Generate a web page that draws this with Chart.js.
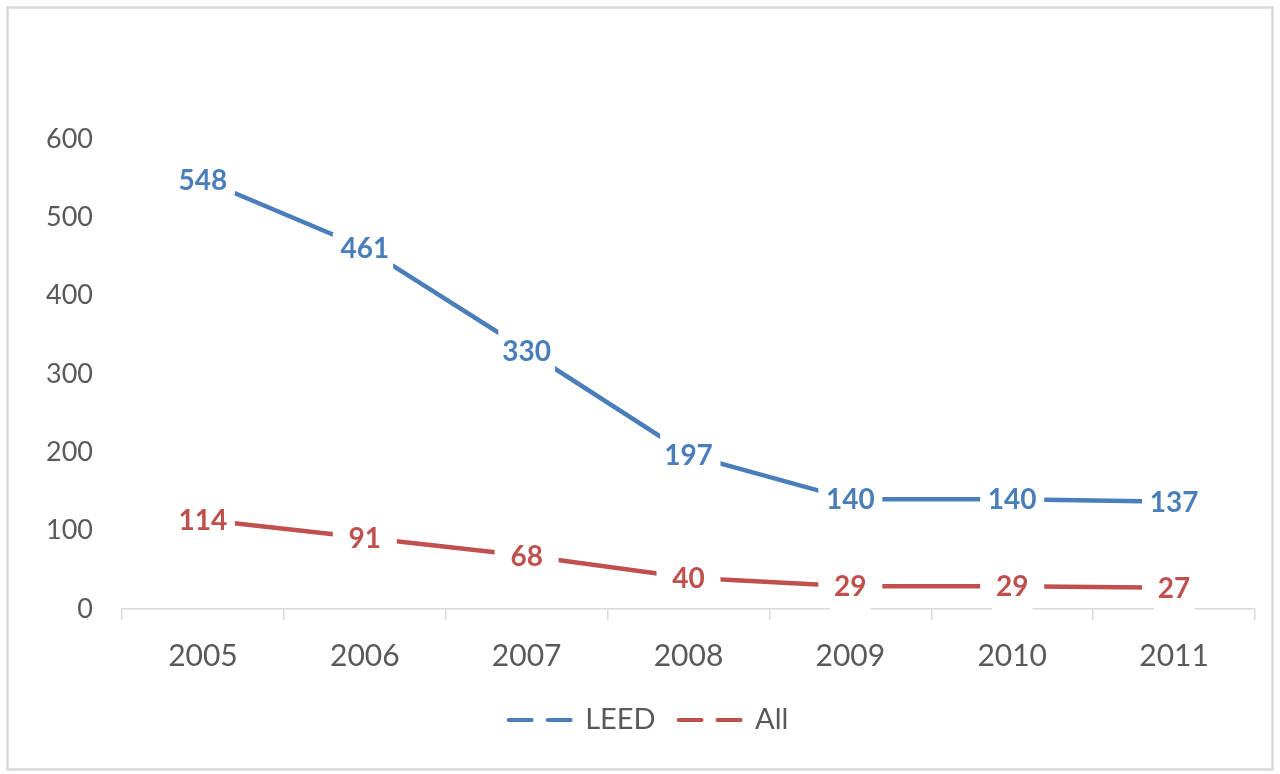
<!DOCTYPE html>
<html>
<head>
<meta charset="utf-8">
<script src="https://cdn.jsdelivr.net/npm/chart.js@4"></script>
<style>
  html, body { margin: 0; padding: 0; background: #fff; }
  #wrap { width: 1280px; height: 774px; position: relative; }
</style>
</head>
<body>
<div id="wrap"><canvas id="chart" width="1280" height="774"></canvas></div>
<script>
const years = ['2005', '2006', '2007', '2008', '2009', '2010', '2011'];
const leedValues = [548, 461, 330, 197, 140, 140, 137];
const allValues = [114, 91, 68, 40, 29, 29, 27];
const yTicks = [0, 100, 200, 300, 400, 500, 600];

const blue = '#4a7ebb';
const red = '#c0504d';
const grey = '#595959';
const lineGrey = '#d9d9d9';

// white-boxed value labels sitting on each point, like the Excel original
const pointLabels = {
    id: 'pointLabels',
    afterDatasetsDraw(chart) {
        const ctx = chart.ctx;
        ctx.save();
        ctx.font = 'bold 28px Lato';
        ctx.textAlign = 'center';
        ctx.textBaseline = 'middle';
        chart.data.datasets.forEach((ds, di) => {
            const meta = chart.getDatasetMeta(di);
            meta.data.forEach((pt, i) => {
                const text = String(ds.data[i]);
                const w = ctx.measureText(text).width;
                ctx.fillStyle = '#fff';
                ctx.fillRect(pt.x - 32, pt.y - 15, 64, 30);
                ctx.fillRect(pt.x - w / 2 - 4, pt.y - 24, w + 8, 48);
                ctx.fillStyle = ds.borderColor;
                ctx.fillText(text, pt.x, pt.y + 1);
            });
        });
        ctx.restore();
    }
};

const frame = {
    id: 'frame',
    beforeDraw(chart) {
        const ctx = chart.ctx;
        ctx.save();
        ctx.fillStyle = '#fff';
        ctx.fillRect(0, 0, chart.width, chart.height);
        ctx.strokeStyle = lineGrey;
        ctx.lineWidth = 2.5;
        ctx.strokeRect(7.5, 7.5, 1265, 762);
        ctx.restore();
    }
};

new Chart(document.getElementById('chart'), {
    type: 'line',
    data: {
        labels: years,
        datasets: [{
            label: 'LEED',
            data: leedValues,
            borderColor: blue,
            backgroundColor: blue,
            borderWidth: 4.5,
            pointRadius: 0,
            tension: 0,
            fill: false
        }, {
            label: 'All',
            data: allValues,
            borderColor: red,
            backgroundColor: red,
            borderWidth: 4.5,
            pointRadius: 0,
            tension: 0,
            fill: false
        }]
    },
    options: {
        responsive: false,
        animation: false,
        devicePixelRatio: 1,
        layout: { padding: { top: 139, right: 25, bottom: 29.5, left: 42 } },
        scales: {
            x: {
                offset: true,
                grid: {
                    display: true,
                    offset: true,
                    drawOnChartArea: false,
                    drawTicks: true,
                    tickLength: 11,
                    color: lineGrey,
                    lineWidth: 1.5
                },
                border: { display: true, color: lineGrey, width: 1.5 },
                ticks: { color: grey, font: { family: 'Lato', size: 30 }, padding: 18 },
                afterFit(scale) { scale.height = 73.5; }
            },
            y: {
                min: 0,
                max: 600,
                afterBuildTicks(scale) { scale.ticks = yTicks.map(v => ({ value: v })); },
                grid: { display: false, drawTicks: false },
                border: { display: false },
                ticks: { color: grey, font: { family: 'Lato', size: 27 }, padding: 29 },
                afterFit(scale) { scale.width = 80; }
            }
        },
        plugins: {
            tooltip: { enabled: false },
            legend: {
                position: 'bottom',
                labels: {
                    color: grey,
                    font: { family: 'Lato', size: 29 },
                    usePointStyle: true,
                    pointStyle: 'line',
                    pointStyleWidth: 62,
                    padding: 23,
                    generateLabels(chart) {
                        return chart.data.datasets.map((ds, i) => ({
                            text: ds.label,
                            fillStyle: ds.borderColor,
                            strokeStyle: ds.borderColor,
                            fontColor: grey,
                            lineWidth: 4,
                            lineDash: [23, 16],
                            lineCap: 'round',
                            pointStyle: 'line',
                            hidden: false,
                            datasetIndex: i
                        }));
                    }
                }
            }
        }
    },
    plugins: [frame, pointLabels]
});
</script>
</body>
</html>
